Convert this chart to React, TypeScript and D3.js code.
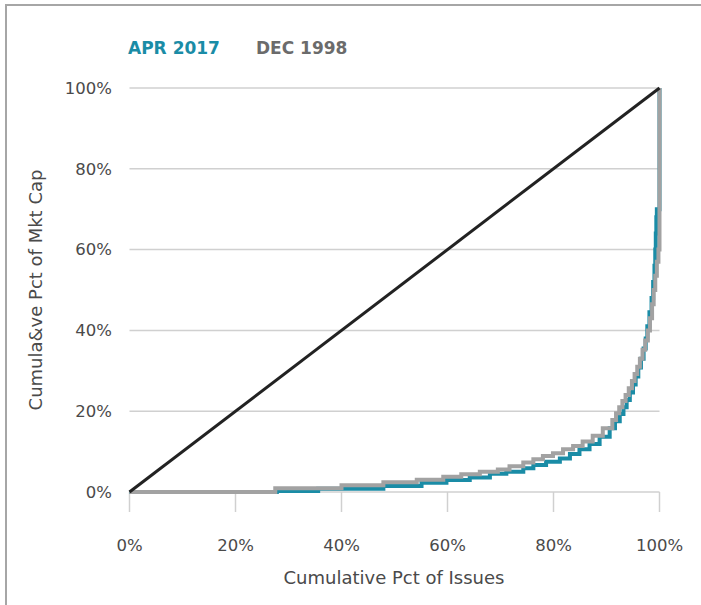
import React from "react";
import * as d3 from "d3";

const xTicks = [0, 20, 40, 60, 80, 100];
const yTicks = [0, 20, 40, 60, 80, 100];

// Cumulative pct of issues (x, step start) vs cumulative pct of market cap (y)
const dec1998X = [0, 27.5, 40, 47.9, 54.2, 59.2, 62.6, 66.1, 69.5, 71.7, 74.3, 76.2, 78, 79.9, 81.8, 83.7, 85.5, 87.4, 89.3, 91.1, 91.8, 92.4, 93, 93.6, 94.2, 94.8, 95.3, 95.8, 96.3, 96.8, 97.3, 97.8, 98.2, 98.6, 98.9, 99.2, 99.5, 99.8, 100, 100];
const dec1998Y = [0, 0.9, 1.65, 2.4, 3.05, 3.8, 4.4, 5.0, 5.6, 6.4, 7.3, 8.1, 8.9, 9.6, 10.6, 11.4, 12.5, 13.9, 15.8, 17.8, 19.5, 21, 22.5, 24, 25.7, 27.5, 29.2, 31, 33, 35.2, 37.5, 40, 43, 46.5, 50, 53.5, 57, 60, 60, 100];

const apr2017X = [0, 27.8, 35.6, 47.9, 55.1, 59.8, 64.2, 68, 71.1, 74.3, 76.2, 78.6, 81.2, 83.1, 84.9, 86.8, 88.7, 90.6, 91.6, 92.5, 93.2, 93.8, 94.4, 95, 95.5, 96, 96.5, 97, 97.4, 97.7, 98.1, 98.5, 98.8, 99.05, 99.2, 99.3, 99.4, 99.5, 100, 100];
const apr2017Y = [0, 0.25, 0.8, 1.5, 2.3, 3.0, 3.6, 4.5, 5.0, 5.9, 6.7, 7.5, 8.3, 9.4, 10.6, 11.9, 13.7, 15.8, 17.5, 19.3, 21, 22.8, 24.6, 26.6, 28.6, 30.8, 33, 35.5, 38, 41, 44.5, 48, 52, 56, 60, 64, 68, 70, 70, 100];

const equalityX = [0, 100];
const equalityY = [0, 100];

const legendLabels = ["APR 2017", "DEC 1998"];

const W = 701;
const H = 605;
const FONT = "'DejaVu Sans', 'Open Sans', sans-serif";

export default function App() {
  const x = d3.scaleLinear().domain([0, 100]).range([129.5, 659.5]);
  const y = d3.scaleLinear().domain([0, 100]).range([492, 88]);

  const line = d3
    .line<[number, number]>()
    .x((d) => x(d[0]))
    .y((d) => y(d[1]))
    .curve(d3.curveStepAfter);
  const straight = d3
    .line<[number, number]>()
    .x((d) => x(d[0]))
    .y((d) => y(d[1]));

  const zip = (a: number[], b: number[]) => a.map((v, i) => [v, b[i]] as [number, number]);

  const teal = "#1a8ca6";
  const gray = "#a2a2a2";
  const textCol = "#4a4a4a";

  return (
    <svg
      width={W}
      height={H}
      style={{ position: "fixed", left: 0, top: 0, background: "#fff" }}
      fontFamily={FONT}
    >
      <rect x={0} y={0} width={W} height={H} fill="#fff" />
      <rect x={6} y={5} width={W + 10} height={H + 10} fill="none" stroke="#a6a6a6" strokeWidth={2} />

      {/* gridlines */}
      {yTicks.map((t) => (
        <line key={"g" + t} x1={x(0)} x2={x(100)} y1={y(t)} y2={y(t)} stroke="#d0d0d0" strokeWidth={1.5} />
      ))}
      {/* x tick marks */}
      {xTicks.map((t) => (
        <line key={"t" + t} x1={x(t)} x2={x(t)} y1={y(0)} y2={y(0) + 20} stroke="#d0d0d0" strokeWidth={1.5} />
      ))}

      {/* y tick labels */}
      {yTicks.map((t) => (
        <text key={"yl" + t} x={112} y={y(t)} dy="0.35em" textAnchor="end" fontSize={16.5} fill={textCol}>
          {t + "%"}
        </text>
      ))}
      {/* x tick labels */}
      {xTicks.map((t) => (
        <text key={"xl" + t} x={x(t)} y={545} dy="0.35em" textAnchor="middle" fontSize={16.5} fill={textCol}>
          {t + "%"}
        </text>
      ))}

      {/* axis titles */}
      <text x={394} y={578} dy="0.35em" textAnchor="middle" fontSize={18} fill={textCol}>
        Cumulative Pct of Issues
      </text>
      <text
        transform={`translate(36,${(y(0) + y(100)) / 2}) rotate(-90)`}
        dy="0.35em"
        textAnchor="middle"
        fontSize={18}
        fill={textCol}
      >
        Cumula&amp;ve Pct of Mkt Cap
      </text>

      {/* legend */}
      <text x={128} y={48} dy="0.35em" fontSize={17} fontWeight="bold" fill={teal}>
        {legendLabels[0]}
      </text>
      <text x={256} y={48} dy="0.35em" fontSize={17} fontWeight="bold" fill="#6b6b6b">
        {legendLabels[1]}
      </text>

      {/* series */}
      <path d={line(zip(apr2017X, apr2017Y)) || ""} fill="none" stroke={teal} strokeWidth={4} />
      <path d={line(zip(dec1998X, dec1998Y)) || ""} fill="none" stroke={gray} strokeWidth={4} />
      <path d={straight(zip(equalityX, equalityY)) || ""} fill="none" stroke="#222" strokeWidth={3} />
    </svg>
  );
}
